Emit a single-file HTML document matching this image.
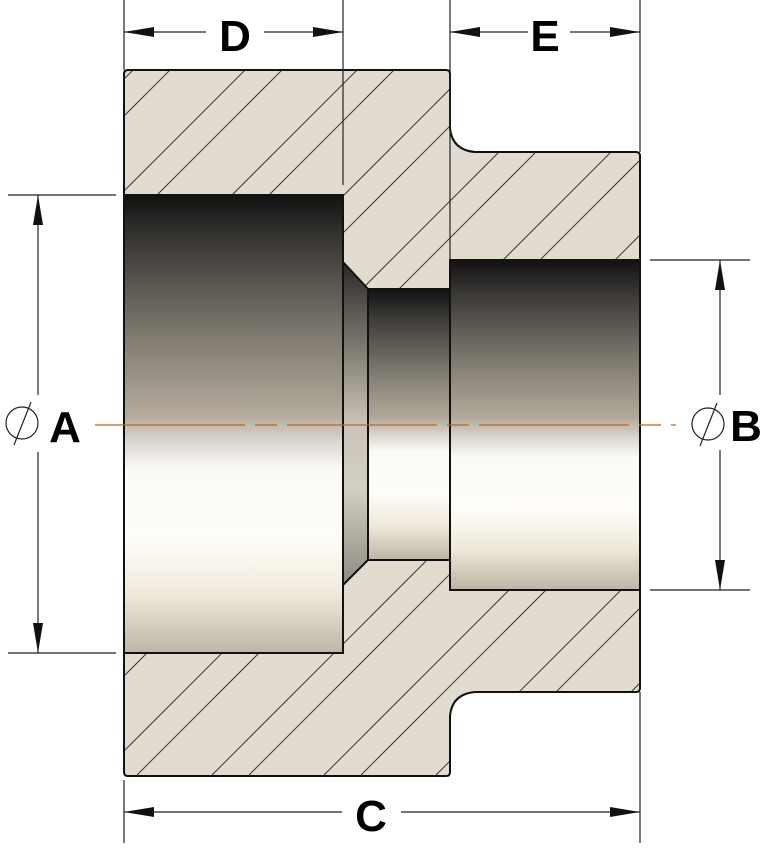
<!DOCTYPE html>
<html><head><meta charset="utf-8"><style>
html,body{margin:0;padding:0;background:#fff;width:768px;height:851px;overflow:hidden;}
svg{display:block;}
text{font-family:"Liberation Sans",sans-serif;font-weight:bold;fill:#000;}
</style></head><body>
<svg width="768" height="851" viewBox="0 0 768 851" xmlns="http://www.w3.org/2000/svg">
<defs>
<linearGradient id="bore" x1="0" y1="0" x2="0" y2="1">
<stop offset="0" stop-color="#111"/>
<stop offset="0.1" stop-color="#3a3835"/>
<stop offset="0.3" stop-color="#7d786e"/>
<stop offset="0.48" stop-color="#b3aa9c"/>
<stop offset="0.54" stop-color="#dcd8d0"/>
<stop offset="0.6" stop-color="#fbfaf7"/>
<stop offset="0.75" stop-color="#fffdf8"/>
<stop offset="0.87" stop-color="#f0eadc"/>
<stop offset="1" stop-color="#bdb5a6"/>
</linearGradient>
<linearGradient id="cham" x1="0" y1="0" x2="0" y2="1">
<stop offset="0" stop-color="#2a2826"/>
<stop offset="0.3" stop-color="#8a857b"/>
<stop offset="0.5" stop-color="#c9c3b8"/>
<stop offset="0.7" stop-color="#d4cfc4"/>
<stop offset="1" stop-color="#8f8a80"/>
</linearGradient>
<clipPath id="bc"><path d="M124,74 Q124,70 128,70 L446,70 Q450,70 450,74 L450,128 Q452,150 475,152 L636,152 Q640,152 640,156 L640,688 Q640,692 636,692 L475,692 Q452,694 450,716 L450,772 Q450,776 446,776 L128,776 Q124,776 124,772 Z"/></clipPath>
</defs>
<path d="M124,74 Q124,70 128,70 L446,70 Q450,70 450,74 L450,128 Q452,150 475,152 L636,152 Q640,152 640,156 L640,688 Q640,692 636,692 L475,692 Q452,694 450,716 L450,772 Q450,776 446,776 L128,776 Q124,776 124,772 Z" fill="#e2dbd0"/>
<g clip-path="url(#bc)" stroke="#3a3632" stroke-width="1">
<line x1="-772" y1="900" x2="128" y2="0"/><line x1="-660" y1="900" x2="240" y2="0"/><line x1="-548" y1="900" x2="352" y2="0"/><line x1="-436" y1="900" x2="464" y2="0"/><line x1="-324" y1="900" x2="576" y2="0"/><line x1="-212" y1="900" x2="688" y2="0"/><line x1="-100" y1="900" x2="800" y2="0"/><line x1="12" y1="900" x2="912" y2="0"/><line x1="124" y1="900" x2="1024" y2="0"/><line x1="236" y1="900" x2="1136" y2="0"/><line x1="348" y1="900" x2="1248" y2="0"/><line x1="460" y1="900" x2="1360" y2="0"/>
<line x1="-697" y1="900" x2="203" y2="0"/><line x1="-585" y1="900" x2="315" y2="0"/><line x1="-473" y1="900" x2="427" y2="0"/><line x1="-361" y1="900" x2="539" y2="0"/><line x1="-249" y1="900" x2="651" y2="0"/><line x1="-137" y1="900" x2="763" y2="0"/><line x1="-25" y1="900" x2="875" y2="0"/><line x1="87" y1="900" x2="987" y2="0"/><line x1="199" y1="900" x2="1099" y2="0"/><line x1="311" y1="900" x2="1211" y2="0"/><line x1="423" y1="900" x2="1323" y2="0"/><line x1="535" y1="900" x2="1435" y2="0"/>
</g>
<path d="M124,74 Q124,70 128,70 L446,70 Q450,70 450,74 L450,128 Q452,150 475,152 L636,152 Q640,152 640,156 L640,688 Q640,692 636,692 L475,692 Q452,694 450,716 L450,772 Q450,776 446,776 L128,776 Q124,776 124,772 Z" fill="none" stroke="#111" stroke-width="2"/>
<rect x="124" y="195" width="219" height="458" fill="url(#bore)" stroke="#111" stroke-width="2"/>
<polygon points="343,262 368,289 368,560 343,585" fill="url(#cham)" stroke="#111" stroke-width="2"/>
<rect x="368" y="289" width="82" height="271" fill="url(#bore)" stroke="#111" stroke-width="2"/>
<rect x="450" y="260" width="190" height="330" fill="url(#bore)" stroke="#111" stroke-width="2"/>
<line x1="95" y1="425" x2="676" y2="425" stroke="#b8651e" stroke-width="1.3" stroke-dasharray="150,10,22,10"/>
<g stroke="#222" stroke-width="1.2">
<line x1="124" y1="0" x2="124" y2="70"/>
<line x1="343" y1="0" x2="343" y2="185"/>
<line x1="450" y1="0" x2="450" y2="260"/>
<line x1="640" y1="0" x2="640" y2="152"/>
<line x1="124" y1="780" x2="124" y2="843"/>
<line x1="640" y1="692" x2="640" y2="843"/>
<line x1="8" y1="195" x2="116" y2="195"/>
<line x1="8" y1="653" x2="116" y2="653"/>
<line x1="650" y1="260" x2="750" y2="260"/>
<line x1="650" y1="590" x2="750" y2="590"/>
<line x1="124" y1="32" x2="206" y2="32"/><line x1="264" y1="32" x2="343" y2="32"/>
<line x1="450" y1="32" x2="528" y2="32"/><line x1="570" y1="32" x2="640" y2="32"/>
<line x1="124" y1="812" x2="342" y2="812"/><line x1="401" y1="812" x2="640" y2="812"/>
<line x1="38" y1="195" x2="38" y2="395"/><line x1="38" y1="452" x2="38" y2="653"/>
<line x1="720" y1="260" x2="720" y2="395"/><line x1="720" y1="450" x2="720" y2="590"/>
</g>
<g fill="#111">
<polygon points="124,32 154,27 154,37"/><polygon points="343,32 313,27 313,37"/>
<polygon points="450,32 480,27 480,37"/><polygon points="640,32 610,27 610,37"/>
<polygon points="124,812 154,807 154,817"/><polygon points="640,812 610,807 610,817"/>
<polygon points="38,195 33,225 43,225"/><polygon points="38,653 33,623 43,623"/>
<polygon points="720,260 715,290 725,290"/><polygon points="720,590 715,560 725,560"/>
</g>
<g fill="none" stroke="#222" stroke-width="1.2">
<circle cx="22" cy="423" r="16"/><line x1="31" y1="402" x2="14" y2="445"/>
<circle cx="708" cy="424" r="16"/><line x1="717" y1="403" x2="700" y2="446"/>
</g>
<text x="235" y="51" font-size="44" text-anchor="middle">D</text>
<text x="545" y="51" font-size="44" text-anchor="middle">E</text>
<text x="371" y="831" font-size="44" text-anchor="middle">C</text>
<text x="65" y="442" font-size="44" text-anchor="middle">A</text>
<text x="746" y="441" font-size="44" text-anchor="middle">B</text>
</svg>
</body></html>
